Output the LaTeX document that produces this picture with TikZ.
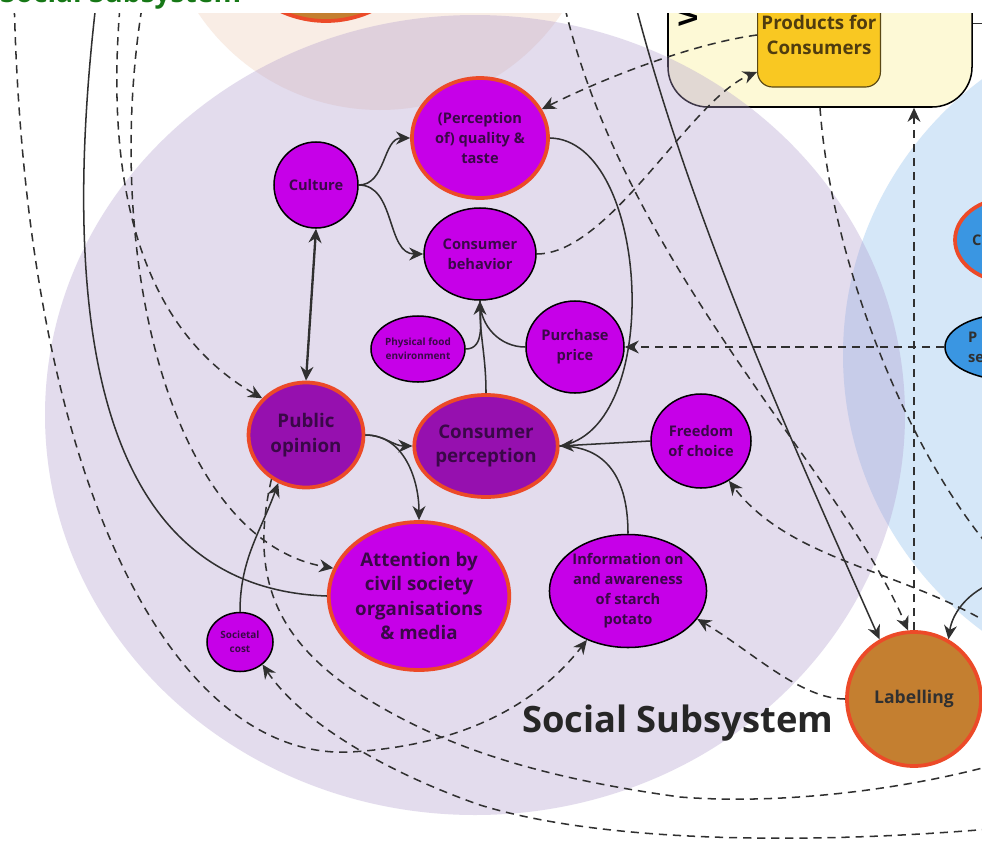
\documentclass[tikz,border=0pt]{standalone}
\usepackage{fontspec}
\setmainfont{Open Sans}
\usetikzlibrary{arrows.meta,shapes.geometric}

\definecolor{socialbg}{RGB}{175,155,206}
\definecolor{envbg}{RGB}{213,231,248}
\definecolor{peachbg}{RGB}{249,237,229}
\definecolor{boxbg}{RGB}{253,249,214}
\definecolor{nodefill}{RGB}{198,0,232}
\definecolor{keyfill}{RGB}{150,16,175}
\definecolor{redrim}{RGB}{236,74,40}
\definecolor{ink}{RGB}{48,48,48}
\definecolor{nodetext}{RGB}{58,8,72}
\definecolor{labfill}{RGB}{196,127,48}
\definecolor{prodfill}{RGB}{249,200,34}
\definecolor{prodline}{RGB}{90,72,20}
\definecolor{prodtext}{RGB}{80,60,15}
\definecolor{bluenode}{RGB}{58,150,226}
\definecolor{headgreen}{RGB}{22,120,22}

\begin{document}
\begin{tikzpicture}[x=0.03cm, y=0.03cm,
  sz/.style 2 args={minimum width=#1*0.03cm, minimum height=#2*0.03cm},
  factor/.style={ellipse, draw=black, line width=1.3pt, fill=nodefill, text=nodetext, inner sep=0pt,
    align=center, font=\bfseries\fontsize{12.5}{17}\selectfont},
  keyrim/.style={draw=redrim, line width=3.2pt},
  darkfill/.style={fill=keyfill},
  bigtext/.style={font=\bfseries\fontsize{16}{21}\selectfont},
  smalltext/.style={font=\bfseries\fontsize{8.5}{12}\selectfont},
  solidline/.style={draw=ink, line width=1.3pt},
  dashline/.style={solidline, dash pattern=on 7pt off 5pt},
  causal/.style={solidline, -{Stealth[length=12pt,width=11pt]}},
  dcausal/.style={dashline, -{Stealth[length=12pt,width=11pt]}},
  twoway/.style={solidline, line width=2pt, {Stealth[length=12pt,width=11pt]}-{Stealth[length=12pt,width=11pt]}}]
  \useasboundingbox (0,0) rectangle (982,-840);
  \clip (0,0) rectangle (982,-840);
  \fill[white] (0,0) rectangle (982,-840);

  % subsystem areas
  \fill[peachbg] (380,109) circle[radius=219];
  \fill[envbg] (1186,-355) circle[radius=343];
  \node[circle, draw=redrim, line width=3.2pt, fill=labfill, minimum size=6.54cm] (topfactor) at (326,88) {};
  \node[rectangle, rounded corners=1.2cm, draw=black, line width=1.3pt, fill=boxbg, minimum width=9.12cm, minimum height=5.01cm] (chainbox) at (820,-23.5) {};
  \node[rotate=90, font=\bfseries\fontsize{22}{22}\selectfont] (vtitle) at (688,-18) {V};
  \node[rectangle, rounded corners=0.45cm, draw=prodline, line width=1pt, fill=prodfill, minimum width=3.66cm, minimum height=3.12cm,
    text=prodtext, align=center, font=\bfseries\fontsize{16}{22}\selectfont] (prod) at (819,-35) {Products for\\Consumers};
  \fill[socialbg, fill opacity=.35] (475,-415) ellipse[x radius=430, y radius=400];

  % factors
  \node[factor, sz={84}{86}] (cult) at (316,-185) {Culture};
  \node[factor, keyrim, sz={136}{120}] (quality) at (480,-138) {(Perception\\of) quality \&\\taste};
  \node[factor, sz={112}{92}] (behav) at (480,-254) {Consumer\\behavior};
  \node[factor, smalltext, sz={94}{66}] (physenv) at (418,-349) {Physical food\\environment};
  \node[factor, sz={98}{92}] (price) at (575,-347) {Purchase\\price};
  \node[factor, keyrim, darkfill, bigtext, sz={115}{105}] (pubop) at (306,-435) {Public\\opinion};
  \node[factor, keyrim, darkfill, bigtext, sz={142}{102}] (consperc) at (486,-446) {Consumer\\perception};
  \node[factor, sz={100}{94}] (freedom) at (701,-441) {Freedom\\of choice};
  \node[factor, keyrim, bigtext, sz={178}{148}] (attention) at (419,-596) {Attention by\\civil society\\organisations\\\& media};
  \node[factor, sz={157}{113}] (info) at (628,-591) {Information on\\and awareness\\of starch\\potato};
  \node[factor, smalltext, sz={66}{59}] (societal) at (240,-642) {Societal\\cost};
  \node[circle, keyrim, fill=labfill, minimum size=4.02cm, text=ink, font=\bfseries\fontsize{15}{17}\selectfont] (label) at (914,-699) {Labelling};
  \node[factor, keyrim, fill=bluenode, text=ink, sz={110}{84}, text width=2.28cm, align=left] (blue1) at (1010,-240) {C};
  \node[factor, fill=bluenode, text=ink, sz={130}{66}, text width=2.52cm, align=left] (blue2) at (1010,-347) {P\\se};

  \coordinate (offM) at (97,5);
  \coordinate (offN) at (633,5);
  \coordinate (offO) at (990,-584);
  \coordinate (offR) at (562,5);
  \coordinate (offS) at (14,5);
  \coordinate (offA) at (121,5);
  \coordinate (offB) at (144,5);
  \coordinate (offU) at (990,-829);
  \coordinate (offV) at (990,-766);
  \coordinate (offW) at (990,-624);
  \coordinate (offZ) at (990,-548);
  \coordinate (offBox) at (990,-23.5);

  % solid links
  \draw[causal] (cult.east) to[out=0,in=180] (quality.west);
  \draw[causal] (cult.east) to[out=0,in=180] (behav.west);
  \draw[twoway] (cult.south) -- (pubop.north);
  \draw[solidline] (physenv.east) to[out=0,in=-90] (behav.south);
  \draw[solidline] (price.west) to[out=180,in=-90] (behav.south);
  \draw[causal] (consperc.north) to[out=90,in=-90] (behav.south);
  \draw[causal] (pubop.east) to[out=0,in=180] (consperc.west);
  \draw[causal] (pubop.east) to[out=0,in=90] (attention.north);
  \draw[solidline] (quality.east) .. controls (650,-140) and (665,-430) .. (consperc.east);
  \draw[causal] (freedom.west) -- (consperc.east);
  \draw[solidline] (info.north) .. controls (628,-470) and (600,-446) .. (consperc.east);
  \draw[causal] (societal.north) to[out=90,in=-110] (pubop.-120);
  \draw[solidline] (offM) .. controls (45,-430) and (150,-590) .. (attention.west);
  \draw[causal] (offN) .. controls (690,-220) and (800,-460) .. (label.120);
  \draw[causal] (offO) .. controls (965,-595) and (952,-615) .. (label.60);
  \draw[solidline] (chainbox.east) -- (offBox);

  % dashed links
  \draw[dcausal] (behav.east) .. controls (610,-254) and (690,-100) .. ([yshift=-1.11cm]prod.west);
  \draw[dcausal] (prod.west) .. controls (690,-44) and (600,-80) .. (quality.25);
  \draw[dcausal] (offR) .. controls (620,-260) and (840,-470) .. (label.95);
  \draw[dcausal] (offS) .. controls (25,-500) and (180,-760) .. (350,-752) .. controls (470,-745) and (540,-700) .. (info.-130);
  \draw[dcausal] (offA) .. controls (100,-220) and (160,-340) .. (pubop.140);
  \draw[dcausal] (offB) .. controls (100,-250) and (170,-540) .. (attention.162);
  \draw[dcausal] (offU) .. controls (800,-845) and (600,-842) .. (480,-805) .. controls (380,-770) and (300,-720) .. (societal.-45);
  \draw[dashline] (pubop.-128) .. controls (248,-580) and (280,-640) .. (353,-690) .. controls (430,-740) and (520,-775) .. (680,-797) .. controls (780,-805) and (900,-790) .. (offV);
  \draw[dcausal] (offW) .. controls (900,-570) and (790,-560) .. (freedom.-55);
  \draw[dcausal] (label.west) .. controls (800,-699) and (750,-650) .. (info.-22);
  \draw[dcausal] (blue2.west) -- (price.east);
  \draw[dashline] (chainbox.south) .. controls (830,-250) and (900,-440) .. (offZ);
  \draw[dcausal] (label.north) -- (label.north |- chainbox.south);

  \node[anchor=base west, text=black!85, font=\bfseries\fontsize{31}{36}\selectfont] (title) at (518,-732) {Social Subsystem};
  \fill[white] (0,0) rectangle (982,-13);
  \node[anchor=base west, inner sep=0pt, text=headgreen, font=\bfseries\fontsize{24}{28}\selectfont] (header) at (0,-3) {Social Subsystem};
\end{tikzpicture}
\end{document}
